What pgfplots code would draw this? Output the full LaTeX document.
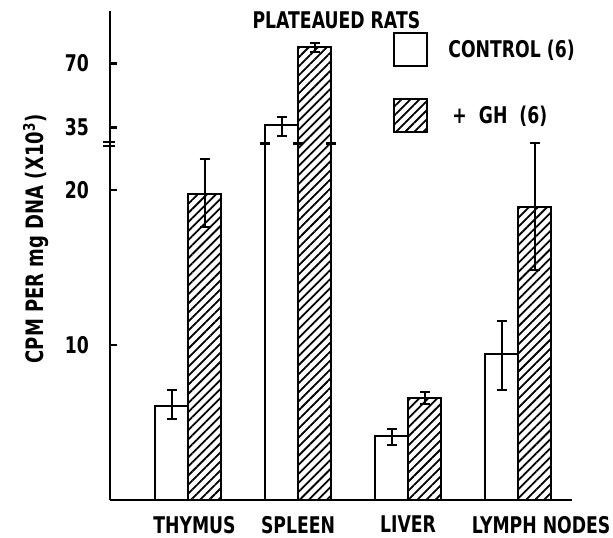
\documentclass[border=0pt]{standalone}
\usepackage{fontspec}
\setmainfont{DejaVu Sans}[FakeStretch=0.75]
\usepackage{pgfplots}
\pgfplotsset{compat=1.18}
\usetikzlibrary{patterns.meta}

\begin{document}
\begin{tikzpicture}
\begin{axis}[
  name=ax,
  width=231pt, height=244.5pt, scale only axis,
  xmin=-0.709, xmax=3.49, ymin=0, ymax=31.55,
  clip=false,
  axis x line*=bottom, axis y line*=left,
  axis line style={line width=1.3pt, -},
  ybar=0pt, bar width=16.5pt,
  xtick={0,1,2,3},
  xticklabels={\hspace*{6.5pt}THYMUS, SPLEEN, LIVER, \hspace*{23pt}LYMPH NODES},
  x tick style={draw=none},
  xticklabel style={font=\bfseries\fontsize{11.5}{13}\selectfont, yshift=-4.5pt},
  ytick={10,20,24.05,28.17},
  yticklabels={10,20,35,70},
  y tick style={line width=1.3pt, black},
  yticklabel style={font=\bfseries\fontsize{11.5}{13}\selectfont, xshift=-7pt},
  tick align=inside, major tick length=3.5pt,
  /pgf/number format/assume math mode=true,
  ylabel={CPM PER mg DNA (X10\textsuperscript{3})},
  every axis y label/.style={at={(rel axis cs:0,0.534)}, xshift=-37pt, rotate=90, anchor=center, font=\bfseries\fontsize{12}{14}\selectfont},
  legend style={at={(rel axis cs:0.6126,0.957)}, anchor=north west, draw=none, fill=none,
    font=\bfseries\fontsize{11.5}{13}\selectfont, row sep=15.5pt, inner sep=0pt,
    /tikz/every odd column/.append style={column sep=8pt}},
  legend cell align=left,
]
\addplot[draw=black, fill=white, line width=1pt,
  legend image code/.code={\draw[line width=1pt, draw=black, fill=white] (0pt,-8.25pt) rectangle (16.5pt,8.25pt);},
  error bars/.cd, y dir=both, y explicit,
  error bar style={line width=1pt, black, solid},
  error mark options={rotate=90, mark size=2.5pt, line width=1pt, black}]
  coordinates {
  (0,6.08)  += (0,1.02) -= (0,0.85)
  (1,24.19) += (0,0.54) -= (0,0.69)
  (2,4.13)  += (0,0.45) -= (0,0.58)
  (3,9.42)  += (0,2.13) -= (0,2.32)
  };
\addlegendentry{CONTROL (6)}
\addplot[draw=black, line width=1pt,
  pattern={Lines[angle=45, distance=3.2pt, line width=0.9pt]}, pattern color=black,
  legend image code/.code={\draw[line width=1pt, draw=black, pattern={Lines[angle=45, distance=3.2pt, line width=0.9pt]}, pattern color=black] (0pt,-8.25pt) rectangle (16.5pt,8.25pt);},
  error bars/.cd, y dir=both, y explicit,
  error bar style={line width=1pt, black, solid},
  error mark options={rotate=90, mark size=2.5pt, line width=1pt, black}]
  coordinates {
  (0,19.74) += (0,2.26) -= (0,2.14)
  (1,29.25) += (0,0.26) -= (0,0.35)
  (2,6.56)  += (0,0.41) -= (0,0.37)
  (3,18.9)  += (0,4.13) -= (0,4.06)
  };
\addlegendentry{\hspace*{2pt}+\hspace{3pt} GH\hspace{3pt} (6)}
% axis break marks
\draw[line width=1pt] ([xshift=-3.5pt]axis cs:-0.709,23.1) -- ([xshift=2.5pt]axis cs:-0.709,23.1);
\draw[line width=1pt] ([xshift=-3.5pt]axis cs:-0.709,22.85) -- ([xshift=2.5pt]axis cs:-0.709,22.85);
% spleen bar break marks
\draw[line width=1.5pt] ([xshift=-2.5pt]axis cs:0.7,22.97) -- ([xshift=2.5pt]axis cs:0.7,22.97);
\draw[line width=1.5pt] ([xshift=-2.5pt]axis cs:1.0,22.97) -- ([xshift=2.5pt]axis cs:1.0,22.97);
\draw[line width=1.5pt] ([xshift=-2.5pt]axis cs:1.3,22.97) -- ([xshift=2.5pt]axis cs:1.3,22.97);
\node[font=\bfseries\fontsize{11.5}{13}\selectfont] at (rel axis cs:0.490,0.982) {PLATEAUED RATS};
\end{axis}
\pgfresetboundingbox
\useasboundingbox ([xshift=-55pt, yshift=-18.5pt]ax.south west) rectangle ([xshift=251.5pt, yshift=250pt]ax.south west);
\end{tikzpicture}
\end{document}
